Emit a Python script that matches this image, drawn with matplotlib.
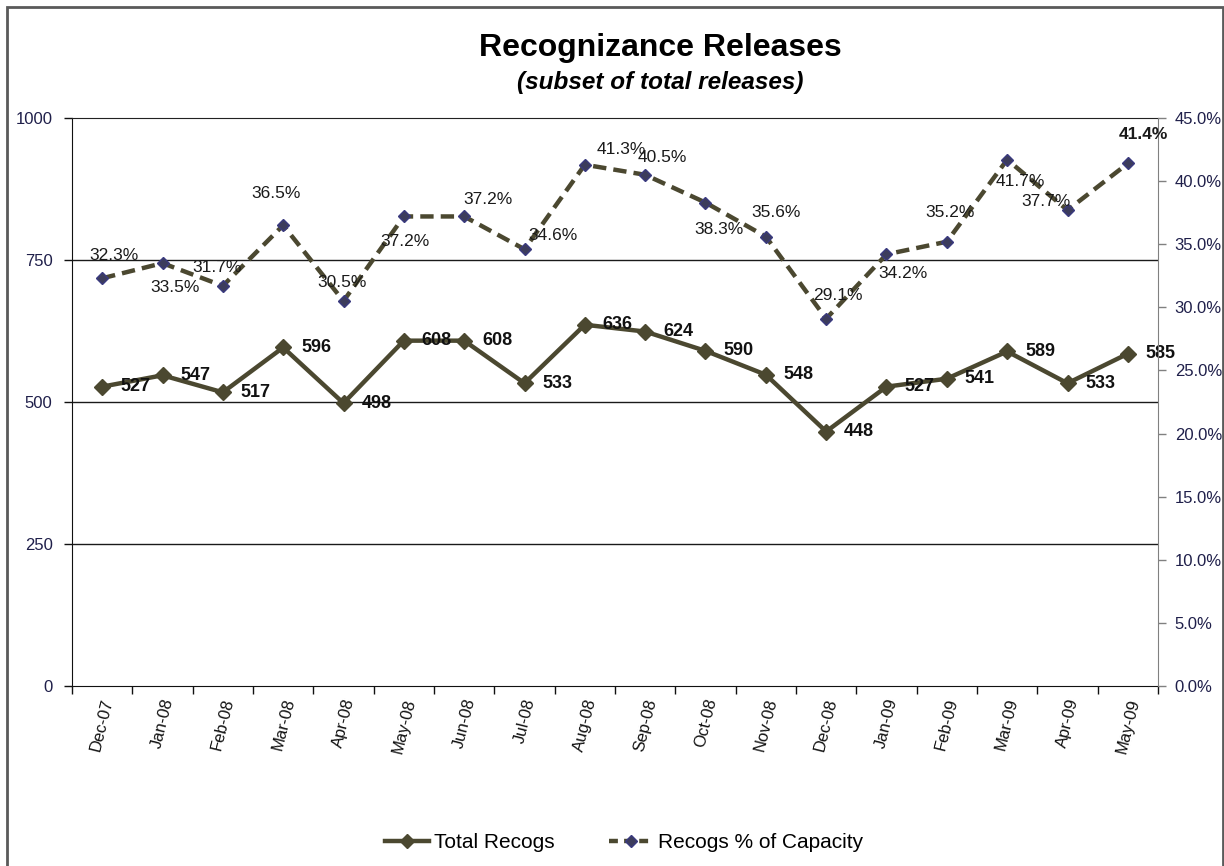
import matplotlib
matplotlib.use("Agg")
import matplotlib.pyplot as plt
from matplotlib.lines import Line2D
from matplotlib.patches import Rectangle
import numpy as np

plt.rcParams['font.family'] = ['Liberation Sans', 'DejaVu Sans']

months = ["Dec-07", "Jan-08", "Feb-08", "Mar-08", "Apr-08", "May-08", "Jun-08", "Jul-08",
          "Aug-08", "Sep-08", "Oct-08", "Nov-08", "Dec-08", "Jan-09", "Feb-09", "Mar-09",
          "Apr-09", "May-09"]
total_recogs = [527, 547, 517, 596, 498, 608, 608, 533, 636, 624, 590, 548, 448, 527, 541, 589, 533, 585]
pct_capacity = [32.3, 33.5, 31.7, 36.5, 30.5, 37.2, 37.2, 34.6, 41.3, 40.5, 38.3, 35.6, 29.1, 34.2,
                35.2, 41.7, 37.7, 41.4]
left_ticks = [0, 250, 500, 750, 1000]
right_ticks = [0, 5, 10, 15, 20, 25, 30, 35, 40, 45]

# label offsets in pixels (dx, dy with y downward) for percentage labels
pct_offsets = [(12, -23), (13, 24), (-6, -18), (-7, -32), (-1, -19), (1, 25), (24, -17), (28, -14),
               (36, -15), (17, -17), (13, 27), (10, -24), (12, -23), (16, 19), (3, -29), (13, 22),
               (-22, -9), (16, -29)]

DPI = 100
W, H = 1224, 866
fig = plt.figure(figsize=(W / DPI, H / DPI), dpi=DPI)
fig.patch.set_facecolor('white')

# outer chart border
fig.patches.append(Rectangle((7 / W, -0.01), (1222.5 - 7) / W, 1 - 7 / H + 0.01,
                             transform=fig.transFigure, fill=False, edgecolor='#5a5a5a',
                             linewidth=2.0))

L, R, T, B = 72, 1158, 118, 686
ax = fig.add_axes([L / W, 1 - B / H, (R - L) / W, (B - T) / H])
ax2 = ax.twinx()

n = len(months)
x = np.arange(n)
line_col = '#4b4830'
tick_col = '#1f1f4a'

ax.set_xlim(-0.5, n - 0.5)
ax.set_ylim(0, 1000)
ax2.set_ylim(0, 45)

for v in [250, 500, 750]:
    ax.axhline(v, color='#1a1a1a', linewidth=1.0, zorder=1)

ax.plot(x, total_recogs, color=line_col, linewidth=3.2, marker='D', markersize=8.5,
        markerfacecolor=line_col, markeredgecolor=line_col, zorder=3, label='Total Recogs')
ax2.plot(x, pct_capacity, color=line_col, linewidth=3.2, linestyle=(0, (3.0, 1.6)), marker='D',
         markersize=6, markerfacecolor='#3c3c5c', markeredgecolor='#3a3a80', markeredgewidth=1.0,
         zorder=3, label='Recogs % of Capacity')

px = 72.0 / DPI
for i, v in enumerate(total_recogs):
    ax.annotate(str(v), (x[i], v), xytext=(18 * px, 0), textcoords='offset points',
                ha='left', va='center', fontsize=13, fontweight='bold', color='#111111', zorder=5)
for i, v in enumerate(pct_capacity):
    dx, dy = pct_offsets[i]
    ax2.annotate(f"{v:.1f}%", (x[i], v), xytext=(dx * px, -dy * px), textcoords='offset points',
                 ha='center', va='center', fontsize=12.5,
                 fontweight='bold' if i == n - 1 else 'normal', color='#1a1a1a', zorder=5)

# spines
for s in ['top', 'right', 'left', 'bottom']:
    ax.spines[s].set_visible(False)
    ax2.spines[s].set_visible(False)
ax.spines['left'].set_visible(True)
ax.spines['left'].set_color('#111111')
ax.spines['bottom'].set_visible(True)
ax.spines['bottom'].set_color('#111111')
ax.spines['top'].set_visible(True)
ax.spines['top'].set_color('#222222')
ax2.spines['right'].set_visible(True)
ax2.spines['right'].set_color('#808080')

ax.set_yticks(left_ticks)
ax.set_yticklabels([str(t) for t in left_ticks])
ax.tick_params(axis='y', direction='out', length=6, width=1, color='#111111',
               labelsize=12, labelcolor=tick_col, pad=8)
ax2.set_yticks(right_ticks)
ax2.set_yticklabels([f"{t:.1f}%" for t in right_ticks])
ax2.tick_params(axis='y', direction='out', length=6, width=1, color='#808080',
                labelsize=12, labelcolor=tick_col, pad=6)

ax.set_xticks(np.arange(n + 1) - 0.5, minor=False)
ax.set_xticklabels([])
ax.set_xticks(x, minor=True)
ax.set_xticklabels(months, minor=True, rotation=76, ha='center', va='top', fontsize=12,
                   color='#111111')
ax.tick_params(axis='x', which='major', direction='out', length=6, width=1, color='#111111')
ax.tick_params(axis='x', which='minor', length=0, pad=8)

fig.text(660 / W, 1 - 48 / H, "Recognizance Releases", ha='center', va='center',
         fontsize=23, fontweight='bold', color='#000000')
fig.text(660 / W, 1 - 82 / H, "(subset of total releases)", ha='center', va='center',
         fontsize=17.5, fontweight='bold', fontstyle='italic', color='#000000')

handles = [
    Line2D([], [], color=line_col, linewidth=3.2, marker='D', markersize=7,
           markerfacecolor=line_col, markeredgecolor=line_col),
    Line2D([], [], color=line_col, linewidth=3.2, linestyle=(0, (2.0, 1.4)), marker='D',
           markersize=6, markerfacecolor='#3c3c5c', markeredgecolor='#3a3a80'),
]
fig.legend(handles, ['Total Recogs', 'Recogs % of Capacity'], loc='center',
           bbox_to_anchor=(624 / W, 1 - 843 / H), ncol=2, frameon=False, fontsize=15,
           handlelength=2.1, handletextpad=0.25, columnspacing=2.6)

fig.savefig('out.png', dpi=DPI, facecolor='white')
